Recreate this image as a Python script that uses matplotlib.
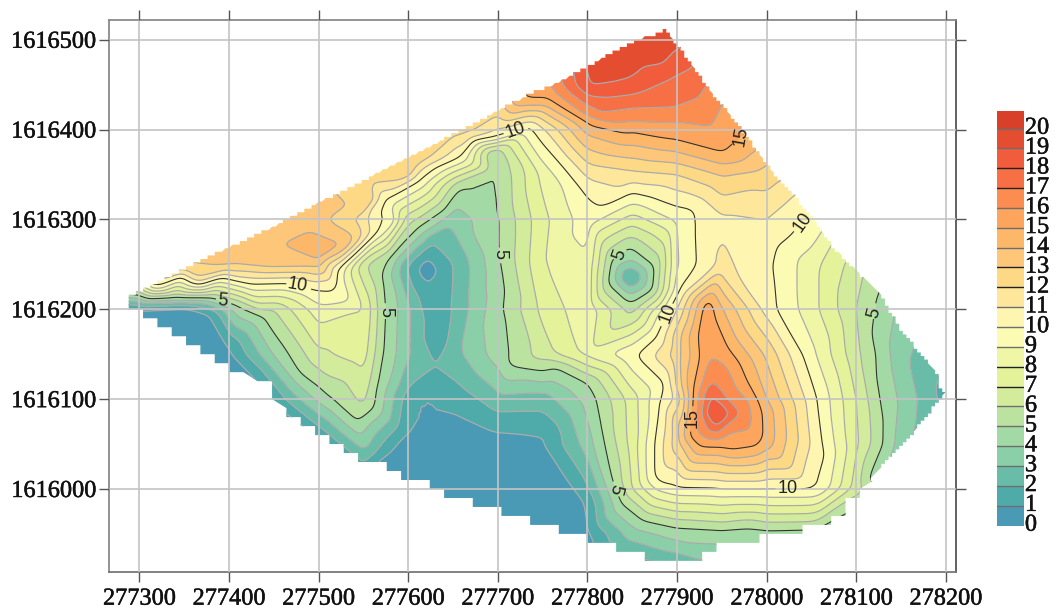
import matplotlib
matplotlib.use('Agg')
import matplotlib.pyplot as plt
import matplotlib.tri as mtri
import matplotlib.patheffects as pe
from matplotlib.colors import ListedColormap
from matplotlib.transforms import ScaledTranslation
import numpy as np
from matplotlib.patches import Polygon

X0 = 277000
Y0 = 1616000

xticks = [277300, 277400, 277500, 277600, 277700, 277800, 277900, 278000, 278100, 278200]
yticks = [1616000, 1616100, 1616200, 1616300, 1616400, 1616500]

# values, easting/northing are offsets from X0/Y0
grid_x = [250, 300, 350, 400, 450, 500, 550, 600, 650, 700, 750, 800, 850, 900, 950, 1000, 1050, 1100, 1150, 1200, 1250]
grid_y = [550, 500, 450, 400, 350, 300, 250, 200, 150, 100, 50, 0, -50, -100]
row_550 = [13, 13, 13, 13, 13, 13, 13, 13, 13, 13, 15, 18.5, 20, 20, 18, 16, 13, 10, 7, 4, 2]
row_500 = [13, 13, 13, 13, 13, 13, 13, 13, 13, 14, 16, 19.5, 19.9, 19.9, 17.5, 16, 13, 10, 7, 4, 2]
row_450 = [13, 13, 13, 13, 13, 13, 13, 13, 13, 14, 15.5, 18.9, 18.6, 17.7, 16.5, 15, 13, 10, 7, 4, 2]
row_400 = [13, 13, 13, 13, 13, 13, 13, 13, 12.5, 11, 10.8, 14.4, 15.2, 15.6, 15.7, 14.5, 13, 10, 7, 4, 2]
row_350 = [13, 13, 13, 13, 13, 13, 13, 12.5, 7.6, 5, 8.3, 11.2, 11.7, 12, 13.1, 12.6, 11.5, 9, 6, 4, 2]
row_300 = [13, 13, 13, 13, 13, 13.3, 11.5, 6.4, 3.3, 4.9, 7.7, 9.6, 7.5, 9.2, 10.8, 11, 10, 7.5, 5, 3, 2]
row_250 = [13, 13, 13, 13.3, 13.5, 13.4, 6.2, 2, 2, 4.8, 7.9, 8.8, 3.5, 9, 11.3, 10.2, 8.4, 6.5, 4.5, 3, 2]
row_200 = [0, 0.8, 0.5, 3.7, 6, 8.6, 8, 3.2, 2.1, 4.7, 7.3, 8.7, 5.6, 11, 14.1, 10.6, 8.4, 6, 3.7, 2.5, 1.5]
row_150 = [0, 0, 0, 0.8, 4.1, 6.8, 7.5, 3.1, 2.6, 4.5, 6.5, 8.3, 9.9, 12.6, 15.8, 12.8, 9.3, 6.3, 3.3, 2, 1.5]
row_100 = [0, 0, 0, 0, 1, 4.3, 6.3, 1.4, 1.5, 2.7, 2.5, 4.4, 7.5, 11.3, 17.3, 14, 10.5, 7, 3.8, 1.6, 1]
row_050 = [0, 0, 0, 0, 0, 0.5, 3.5, 0.6, 0.4, 0.5, 0.9, 3.5, 7.4, 12.6, 15.4, 14.5, 10.9, 7.2, 3.5, 1.5, 1]
row_000 = [0, 0, 0, 0, 0, 0, 0, 0, 0.2, 0.3, 0.3, 1.8, 7, 9.8, 10, 10, 10, 6.5, 3.5, 1, 1]
row_m50 = [0, 0, 0, 0, 0, 0, 0, 0, 0, 0, 0, 0.8, 3.5, 4.5, 4.6, 4.6, 4.5, 3, 1, 1, 1]
row_m100 = [0, 0, 0, 0, 0, 0, 0, 0, 0, 0, 0, 0, 0.3, 1, 2, 2.5, 3, 1.5, 1, 1, 1]

# traced isolines
line5_x = [299, 340, 379, 412, 438, 479, 516, 543, 565, 572, 574, 571, 580, 613, 658, 694, 699, 702, 706, 708, 711, 717, 766,
           800, 814, 827, 838, 862, 900, 981, 1059, 1113, 1130, 1123, 1117, 1122, 847, 875, 873, 847, 823, 827]
line5_y = [216, 213, 213, 203, 192, 129, 99, 75, 114, 155, 199, 236, 258, 292, 336, 374, 352, 266, 236, 222, 140, 136, 135,
           118, 77, 13, -16, -35, -43, -43, -43, 10, 73, 118, 174, 210, 269, 247, 222, 207, 229, 255]
line10_x = [319, 367, 423, 465, 494, 513, 520, 521, 568, 580, 576, 563, 574, 613, 658, 699, 736, 769, 800, 817, 870, 918, 920,
            903, 889, 877, 856, 886, 881, 875, 881, 944, 1059, 1065, 1056, 1011, 1007, 1011, 1026, 1037, 1048]
line10_y = [225, 227, 228, 229, 222, 216, 225, 244, 288, 300, 307, 311, 322, 344, 369, 392, 403, 363, 325, 314, 325, 311, 292,
            222, 196, 169, 147, 118, 96, 13, 7, 1, 2, 36, 99, 199, 247, 269, 281, 300, 311]
line15_x = [728, 758, 799, 844, 895, 951, 923, 918, 914, 925, 962, 989, 996, 995, 978, 956]
line15_y = [433, 433, 409, 396, 389, 374, 174, 110, 58, 47, 43, 47, 58, 85, 121, 158]

# isolines of the northern high
north19_x = [803, 825, 862, 900]
north19_y = [448, 452, 470, 492]
north18_x = [810, 851, 889, 917]
north18_y = [437, 439, 455, 469]
north17_x = [814, 900, 925, 932]
north17_y = [419, 425, 435, 448]
north16_x = [799, 851, 900, 937, 948]
north16_y = [415, 409, 408, 403, 425]

# rings of the southern high
high19_x = [939, 950, 944, 944]
high19_y = [84, 84, 91, 77]
high18_x = [931, 959, 937, 944]
high18_y = [84, 84, 105, 69]
high17_x = [928, 970, 937, 944]
high17_y = [84, 84, 121, 62]
high16_x = [922, 981, 936, 944, 956]
high16_y = [84, 96, 146, 55, 136]

# rings of the western low and the flat blue ground south of it
low1_x = [609, 633, 621, 621, 633, 401, 429, 457, 379, 619, 605, 598, 580, 634, 651, 699, 739, 754, 777, 799]
low1_y = [244, 244, 258, 227, 183, 158, 125, 91, 196, 107, 99, 62, 43, 103, 85, 63, 60, 58, 13, -16]
low2_x = [626, 630, 601, 660, 699]
low2_y = [274, 136, 114, 114, 86]

# spot values: peaks, ridge of the north west wedge
spot_x = [848, 945, 847, 814, 881, 622, 934, 936, 500, 529, 608, 664, 557, 489, 456, 400, 366]
spot_y = [236, 84, 472, 461, 489, 246, 205, 180, 261, 272, 366, 394, 322, 288, 272, 253, 235]
spot_z = [1.5, 19.6, 19.6, 19.4, 19.8, 0.5, 15.6, 15.8, 14.6, 14, 12.7, 12, 12.8, 14, 14, 13.3, 12]

# outline of the mapped area, south side then north side
south_x = [286, 301, 334, 373, 401, 440, 457, 501, 529, 548, 580, 600, 635, 669, 699, 739, 766, 799, 828, 851, 875, 906, 912, 944,
           950, 981, 989, 1023, 1026, 1059, 1078, 1104, 1115]
south_y = [214, 197, 177, 155, 138, 116, 94, 63, 43, 32, 23, 13, -1, -12, -23, -35, -43, -54, -65, -73, -82, -82, -76, -73,
           -65, -65, -54, -53, -46, -43, -27, -9, 10]
north_x = [1115, 1163, 1199, 1193, 1190, 1152, 1126, 1074, 1048, 1011, 970, 933, 903, 886, 877, 855, 833, 814, 799, 758, 739,
           702, 665, 628, 572, 535, 498, 442, 398, 349, 319, 286]
north_y = [10, 62, 107, 114, 129, 174, 218, 269, 307, 347, 403, 448, 492, 511, 506, 500, 489, 478, 469, 448, 441,
           422, 403, 383, 355, 336, 318, 288, 268, 244, 229, 214]

bar_levels = list(range(22))
bar_colors = ['#4A9AB6', '#4FAAAA', '#69BDA8', '#8BCFA9', '#A3D9A5', '#BCE2A0', '#D3EC9B', '#E4F29A', '#EFF6A6', '#FBFBB3',
              '#FEF6B0', '#FEE79A', '#FDD985', '#FDC679', '#FDB768', '#FDA55D', '#FC8D50', '#F76F45', '#F15C3C', '#E54D30', '#D9402A']
bar_dark = [7, 8, 12, 13, 17, 18]

label_x = [392, 571, 702, 836, 828, 1123, 476, 719, 1037, 889, 1023, 963, 914]
label_y = [207, 197, 261, 261, -1, 196, 225, 400, 300, 196, 0, 402, 79]
label_rot = [-5, -90, -90, 70, -105, 75, -10, 20, 55, 70, 0, 80, 90]

rows = [row_550, row_500, row_450, row_400, row_350, row_300, row_250, row_200, row_150, row_100, row_050, row_000, row_m50, row_m100]
gx, gy = np.meshgrid(grid_x, grid_y)
traced = [(line5_x, line5_y, 5), (line10_x, line10_y, 10), (line15_x, line15_y, 15),
          (north19_x, north19_y, 19), (north18_x, north18_y, 18), (north17_x, north17_y, 17), (north16_x, north16_y, 16),
          (high19_x, high19_y, 19), (high18_x, high18_y, 18), (high17_x, high17_y, 17), (high16_x, high16_y, 16),
          (low1_x, low1_y, 1), (low2_x, low2_y, 2)]
px = np.concatenate([gx.ravel()] + [t[0] for t in traced] + [spot_x])
py = np.concatenate([gy.ravel()] + [t[1] for t in traced] + [spot_y])
pz = np.concatenate([np.array(rows, dtype=float).ravel()] + [np.full(len(t[0]), float(t[2])) for t in traced] + [spot_z])

tri = mtri.Triangulation(px, py)
interp = mtri.LinearTriInterpolator(tri, pz)
fine_x = np.arange(250, 1250.1, 2.0)
fine_y = np.arange(-100, 550.1, 2.0)
fx, fy = np.meshgrid(fine_x, fine_y)
fz = np.ma.filled(interp(fx, fy), 0.0)


def soften(z, n=5, passes=2):
    # takes the kinks of the triangles out of the isolines
    kernel = np.ones(n) / n
    for _ in range(passes):
        z = np.apply_along_axis(lambda r: np.convolve(np.pad(r, n // 2, mode='edge'), kernel, mode='valid'), 0, z)
        z = np.apply_along_axis(lambda r: np.convolve(np.pad(r, n // 2, mode='edge'), kernel, mode='valid'), 1, z)
    return z


fz = np.clip(soften(fz), 0.01, 20.9)


def stair_outline(xs, ys, step_x, step_y):
    # snap the outline to raster cells, the original map has a jagged edge
    t = np.arange(len(xs))
    tt = np.linspace(0, len(xs) - 1, 1500)
    sx = np.round(np.interp(tt, t, xs) / step_x) * step_x
    sy = np.round(np.interp(tt, t, ys) / step_y) * step_y
    out = [(sx[0], sy[0])]
    for a, b in zip(sx[1:], sy[1:]):
        if (a, b) != out[-1]:
            out.append((a, b))
    return np.array(out)


plt.rcParams['font.family'] = ['Liberation Serif', 'DejaVu Serif']
fig = plt.figure(figsize=(10.61, 6.09), dpi=100)
ax = fig.add_axes([109 / 1061, (609 - 572) / 609, 846.7 / 1061, 552 / 609])

outline = np.vstack([stair_outline(south_x, south_y, 16, 10), stair_outline(north_x, north_y, 4, 4)]) + [X0, Y0]
clip = Polygon(outline, closed=True, transform=ax.transData, fc='none', ec='none')
ax.add_patch(clip)

cf = ax.contourf(fine_x + X0, fine_y + Y0, fz, levels=bar_levels, colors=bar_colors)
cf.set_clip_path(clip)
thin = [v for v in range(1, 21) if v not in (5, 10, 15)]
cl = ax.contour(fine_x + X0, fine_y + Y0, fz, levels=thin, colors='#ABABAB', linewidths=0.9)
cl.set_clip_path(clip)
cb = ax.contour(fine_x + X0, fine_y + Y0, fz, levels=[5, 10, 15], colors='#333333', linewidths=0.8)
cb.set_clip_path(clip)

manual = [(a + X0, b + Y0) for a, b in zip(label_x, label_y)]
labels = ax.clabel(cb, manual=manual, inline=True, inline_spacing=3, fmt='%d', fontsize=13, colors='#222222')
for txt, rot in zip(labels, label_rot):
    txt.set_rotation(rot)
    txt.set_family(['Liberation Sans'])

ax.set_xlim(277266, 278211)
ax.set_ylim(1615907.6, 1616522)
ax.set_xticks(xticks)
ax.set_yticks(yticks)
ax.ticklabel_format(useOffset=False, style='plain')
ax.set_axisbelow(False)
ax.grid(True, color='#C4C4C4', linewidth=1.2)
ax.tick_params(which='both', direction='out', length=7.5, width=1, color='#555555', top=True, right=True,
               labelsize=17.5, pad=2, labelcolor='#111111')
ax.tick_params(axis='x', pad=4.5)
for side, col in (('left', '#8A8A8A'), ('top', '#8A8A8A'), ('bottom', '#777777'), ('right', '#555555')):
    ax.spines[side].set_color(col)
    ax.spines[side].set_linewidth(1.3)

cax = fig.add_axes([997 / 1061, (609 - 525.5) / 609, 26.5 / 1061, 414.8 / 609])
cax.pcolormesh([0, 1], bar_levels, np.arange(21).reshape(-1, 1), cmap=ListedColormap(bar_colors), vmin=-0.5, vmax=20.5)
for v in range(1, 21):
    cax.axhline(v, color='#222222' if v in bar_dark else '#6E6E6E', linewidth=1)
cax.set_ylim(0, 20.9)
cax.set_xticks([])
cax.set_yticks(range(21))
cax.yaxis.tick_right()
cax.tick_params(length=0, pad=1, labelsize=17.5, labelcolor='#111111')
for sp in cax.spines.values():
    sp.set_visible(False)

shift = ScaledTranslation(0, 2 / 72, fig.dpi_scale_trans)
for lab in cax.get_yticklabels():
    lab.set_transform(lab.get_transform() + shift)
heavy = [pe.withStroke(linewidth=0.35, foreground='#111111')]
for lab in ax.get_xticklabels() + ax.get_yticklabels() + cax.get_yticklabels():
    lab.set_path_effects(heavy)

fig.savefig('out.png', dpi=100)
